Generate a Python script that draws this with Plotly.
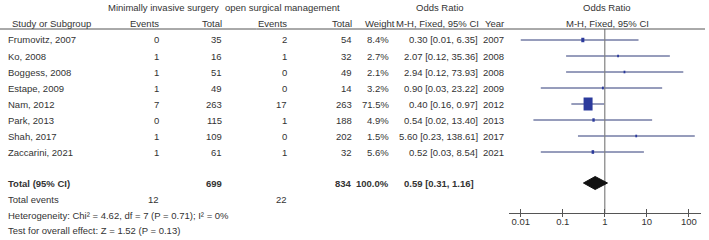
import plotly.graph_objects as go
import math

# ---------------- data ----------------
studies = ["Frumovitz, 2007", "Ko, 2008", "Boggess, 2008", "Estape, 2009",
           "Nam, 2012", "Park, 2013", "Shah, 2017", "Zaccarini, 2021"]
mis_events = [0, 1, 1, 1, 7, 0, 1, 1]
mis_total = [35, 16, 51, 49, 263, 115, 109, 61]
osm_events = [2, 1, 0, 0, 17, 1, 0, 1]
osm_total = [54, 32, 49, 14, 263, 188, 202, 32]
weights = [8.4, 2.7, 2.1, 3.2, 71.5, 4.9, 1.5, 5.6]
or_est = [0.30, 2.07, 2.94, 0.90, 0.40, 0.54, 5.60, 0.52]
ci_low = [0.01, 0.12, 0.12, 0.03, 0.16, 0.02, 0.23, 0.03]
ci_high = [6.35, 35.36, 73.93, 23.22, 0.97, 13.40, 138.61, 8.54]
years = [2007, 2008, 2008, 2009, 2012, 2013, 2017, 2021]

total_mis = 699
total_osm = 834
total_weight = 100.0
pooled_or = 0.59
pooled_low = 0.31
pooled_high = 1.16
total_events_mis = 12
total_events_osm = 22
heterogeneity = "Heterogeneity: Chi² = 4.62, df = 7 (P = 0.71); I² = 0%"
overall = "Test for overall effect: Z = 1.52 (P = 0.13)"

tick_vals = [0.01, 0.1, 1, 10, 100]
tick_text = ["0.01", "0.1", "1", "10", "100"]

# ---------------- layout helpers ----------------
W, H = 709, 240
FONT = "Liberation Sans, Arial, sans-serif"
TXT = "#333333"
FS = 9.5

def row_y(i):
    return 40 + 16 * i

Y_TOTAL = 183
Y_EVENTS = 199
Y_HET = 215
Y_TEST = 230
Y_AXIS = 213
Y_HEAD1 = 7
Y_HEAD2 = 23
Y_LINE = 29

annotations = []

def txt(s, px, py, anchor="left", bold=False):
    annotations.append(dict(
        text=f"<b>{s}</b>" if bold else s,
        x=px / W, y=1 - py / H, xref="paper", yref="paper",
        xanchor=anchor, yanchor="middle", showarrow=False, borderpad=0,
        font=dict(family=FONT, size=FS, color=TXT)))

# headers
txt("Minimally invasive surgery", 163.5, Y_HEAD1, "center")
txt("open surgical management", 282.5, Y_HEAD1, "center")
txt("Odds Ratio", 440, Y_HEAD1, "center")
txt("Odds Ratio", 607, Y_HEAD1, "center")
txt("Study or Subgroup", 11, Y_HEAD2, "left")
txt("Events", 160, Y_HEAD2, "right")
txt("Total", 223, Y_HEAD2, "right")
txt("Events", 288, Y_HEAD2, "right")
txt("Total", 353, Y_HEAD2, "right")
txt("Weight", 396, Y_HEAD2, "right")
txt("M-H, Fixed, 95% CI", 480, Y_HEAD2, "right")
txt("Year", 505, Y_HEAD2, "right")
txt("M-H, Fixed, 95% CI", 607, Y_HEAD2, "center")

# study rows
for i, s in enumerate(studies):
    y = row_y(i)
    txt(s, 7, y, "left")
    txt(str(mis_events[i]), 160, y, "right")
    txt(str(mis_total[i]), 223, y, "right")
    txt(str(osm_events[i]), 288, y, "right")
    txt(str(osm_total[i]), 353, y, "right")
    txt(f"{weights[i]:.1f}%", 390, y, "right")
    txt(f"{or_est[i]:.2f} [{ci_low[i]:.2f}, {ci_high[i]:.2f}]", 479, y, "right")
    txt(str(years[i]), 505, y, "right")

# totals
txt("Total (95% CI)", 7, Y_TOTAL, "left", bold=True)
txt(str(total_mis), 223, Y_TOTAL, "right", bold=True)
txt(str(total_osm), 353, Y_TOTAL, "right", bold=True)
txt(f"{total_weight:.1f}%", 390, Y_TOTAL, "right", bold=True)
txt(f"{pooled_or:.2f} [{pooled_low:.2f}, {pooled_high:.2f}]", 403, Y_TOTAL, "left", bold=True)
txt("Total events", 7, Y_EVENTS, "left")
txt(str(total_events_mis), 160, Y_EVENTS, "right")
txt(str(total_events_osm), 288, Y_EVENTS, "right")
txt(heterogeneity, 7, Y_HET, "left")
txt(overall, 7, Y_TEST, "left")

fig = go.Figure()

LINE_C = "#2e3a78"
SQ_C = "#2b3a9c"

xr = [-2.28, 2.29]
xdom = [509 / W, 701 / W]
px_per_decade = (xdom[1] - xdom[0]) * W / (xr[1] - xr[0])

# CI lines
for i in range(len(studies)):
    fig.add_trace(go.Scatter(x=[ci_low[i], ci_high[i]], y=[row_y(i), row_y(i)],
                             mode="lines", line=dict(color=LINE_C, width=1),
                             hoverinfo="skip", showlegend=False))

# weight boxes (area proportional to weight)
wmax = max(weights)
for i, w in enumerate(weights):
    f = math.sqrt(w / wmax)
    hw = max(0.9, 4.5 * f) / px_per_decade      # half width in decades
    hh = max(1.3, 6.5 * f)                        # half height in px units
    lo = or_est[i] / 10 ** hw
    hi = or_est[i] * 10 ** hw
    y = row_y(i)
    fig.add_trace(go.Scatter(x=[lo, hi, hi, lo, lo],
                             y=[y - hh, y - hh, y + hh, y + hh, y - hh],
                             mode="lines", fill="toself", fillcolor=SQ_C,
                             line=dict(color=SQ_C, width=0),
                             hoverinfo="skip", showlegend=False))

# vertical line at OR = 1
fig.add_trace(go.Scatter(x=[1, 1], y=[Y_LINE, Y_AXIS], mode="lines",
                         line=dict(color="#808080", width=1.2),
                         hoverinfo="skip", showlegend=False))

# pooled diamond
dh = 6.5
fig.add_trace(go.Scatter(x=[pooled_low, pooled_or, pooled_high, pooled_or, pooled_low],
                         y=[Y_TOTAL, Y_TOTAL - dh, Y_TOTAL, Y_TOTAL + dh, Y_TOTAL],
                         mode="lines", fill="toself", fillcolor="#111111",
                         line=dict(color="#111111", width=1),
                         hoverinfo="skip", showlegend=False))

# dummy trace for second x axis (outside tick marks)
fig.add_trace(go.Scatter(x=[1], y=[Y_AXIS], xaxis="x2", mode="markers",
                         marker=dict(opacity=0), showlegend=False, hoverinfo="skip"))

fig.update_layout(
    width=W, height=H,
    margin=dict(l=0, r=0, t=0, b=0),
    paper_bgcolor="white", plot_bgcolor="white",
    font=dict(family=FONT, size=FS, color=TXT),
    annotations=annotations,
    hovermode=False,
    xaxis=dict(type="log", range=xr, domain=xdom, anchor="y",
               showgrid=False, zeroline=False, showline=True,
               linecolor="#555555", linewidth=1,
               tickvals=tick_vals, ticktext=tick_text,
               ticks="inside", ticklen=4, tickcolor="#555555", tickwidth=1,
               tickfont=dict(family=FONT, size=FS, color=TXT)),
    xaxis2=dict(type="log", range=xr, domain=xdom, anchor="y", overlaying="x",
                side="bottom", showgrid=False, zeroline=False, showline=False,
                tickvals=tick_vals, showticklabels=False,
                ticks="outside", ticklen=3, tickcolor="#555555", tickwidth=1),
    yaxis=dict(range=[Y_AXIS, 0], domain=[(H - Y_AXIS) / H, 1],
               visible=False, showgrid=False, zeroline=False),
    shapes=[dict(type="line", xref="paper", yref="paper",
                 x0=0, x1=705 / W, y0=1 - Y_LINE / H, y1=1 - Y_LINE / H,
                 line=dict(color="#555555", width=1))],
)

fig.write_html("out.html", config={"displayModeBar": False, "staticPlot": True},
               post_script="document.body.style.margin='0';document.body.style.overflow='hidden';")
